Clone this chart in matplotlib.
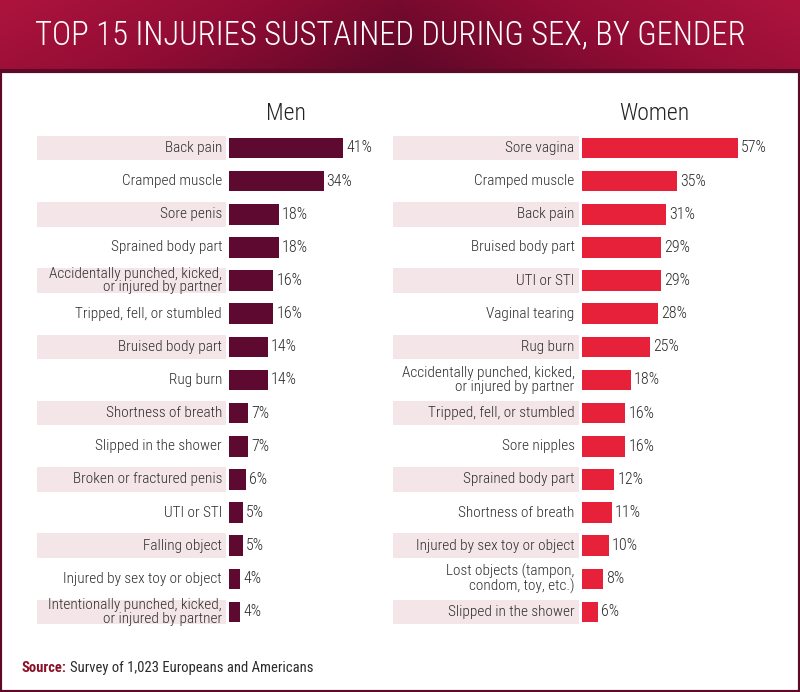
import numpy as np
import matplotlib
matplotlib.use("Agg")
import matplotlib.pyplot as plt
from matplotlib.colors import LinearSegmentedColormap
from matplotlib.patches import Rectangle

plt.rcParams['font.family'] = ['Roboto Condensed', 'DejaVu Sans']

# data
men_labels = ["Back pain", "Cramped muscle", "Sore penis", "Sprained body part",
              "Accidentally punched, kicked,\nor injured by partner",
              "Tripped, fell, or stumbled", "Bruised body part", "Rug burn",
              "Shortness of breath", "Slipped in the shower",
              "Broken or fractured penis", "UTI or STI", "Falling object",
              "Injured by sex toy or object",
              "Intentionally punched, kicked,\nor injured by partner"]
men_values = [41, 34, 18, 18, 16, 16, 14, 14, 7, 7, 6, 5, 5, 4, 4]

women_labels = ["Sore vagina", "Cramped muscle", "Back pain", "Bruised body part",
                "UTI or STI", "Vaginal tearing", "Rug burn",
                "Accidentally punched, kicked,\nor injured by partner",
                "Tripped, fell, or stumbled", "Sore nipples", "Sprained body part",
                "Shortness of breath", "Injured by sex toy or object",
                "Lost objects (tampon,\ncondom, toy, etc.)", "Slipped in the shower"]
women_values = [57, 35, 31, 29, 29, 28, 25, 18, 16, 16, 12, 11, 10, 8, 6]

W, H = 800, 692
fig = plt.figure(figsize=(W / 100, H / 100), dpi=100)
fig.patch.set_facecolor("white")


def px_axes(x0, y0, x1, y1):
    # pixel box (top-left origin) -> axes
    return fig.add_axes([x0 / W, 1 - y1 / H, (x1 - x0) / W, (y1 - y0) / H])


# header band with a dark red gradient
hdr = px_axes(0, 0, W, 71)
gx = np.linspace(-1, 1, 400)
gy = np.linspace(0, 1, 60)
GX, GY = np.meshgrid(gx, gy)
shade = 0.6 * np.abs(GX) + 0.2 * (1 - GY)
cmap = LinearSegmentedColormap.from_list("hdr", ["#5e0828", "#900c34", "#ad143d"])
hdr.imshow(shade, cmap=cmap, aspect="auto", extent=[0, 1, 0, 1], vmin=0, vmax=0.8)
hdr.set_axis_off()
hdr.text(390 / W, 0.5, "TOP 15 INJURIES SUSTAINED DURING SEX, BY GENDER",
         color="white", fontsize=23.5, fontweight="light",
         ha="center", va="center", transform=hdr.transAxes)

# frame of the white panel
frame = px_axes(0, 71, W, H)
frame.set_xlim(0, 1)
frame.set_ylim(0, 1)
frame.set_axis_off()
frame.add_patch(Rectangle((0, 0), 1, 1, fill=False, edgecolor="#5c0a28",
                          linewidth=3, transform=frame.transAxes, clip_on=False))

row_top, row_bot = 148, 612
step = (row_bot - row_top) / 14
ax_top, ax_bot = 128, 632

stripe_col = "#f4e6e8"
text_col = "#2b2b2b"


def panel(x0, x1, zero, scale, labels, values, color, title, title_x):
    ax = px_axes(x0, ax_top, x1, ax_bot)
    ax.set_xlim((x0 - zero) / scale, (x1 - zero) / scale)
    ax.set_ylim(len(values) - 1 + (ax_bot - row_bot) / step, -(row_top - ax_top) / step)
    ax.set_axis_off()
    y = np.arange(len(values))
    stripes = y[::2]
    xmin = ax.get_xlim()[0]
    ax.barh(stripes, [-3 / scale - xmin] * len(stripes), left=xmin,
            height=24.6 / step, color=stripe_col, linewidth=0)
    ax.barh(y, values, height=20.6 / step, color=color, linewidth=0)
    for yi, lab, v in zip(y, labels, values):
        ax.text(-7 / scale, yi, lab, ha="right", va="center", fontsize=11,
                fontweight="light", color=text_col, linespacing=0.95)
        ax.text(v + 3 / scale, yi, f"{v}%", ha="left", va="center", fontsize=11.5,
                fontweight="light", color=text_col)
    fig.text(title_x / W, 1 - 113 / H, title, ha="center", va="center",
             fontsize=17, fontweight="light", color="#222222")
    return ax


panel(37, 390, 229, 2.78, men_labels, men_values, "#5e0a30", "Men", 286)
panel(393, 790, 581.5, 2.74, women_labels, women_values, "#e8213b", "Women", 654)

# source note
src = fig.text(21 / W, 1 - 668 / H, "Source:", ha="left", va="center",
               fontsize=10.5, fontweight="bold", color="#8a1028")
fig.canvas.draw()
bb = src.get_window_extent()
fig.text((bb.x1 + 4) / W, 1 - 668 / H, "Survey of 1,023 Europeans and Americans",
         ha="left", va="center", fontsize=10.5, color="#2b2b2b")

fig.savefig("out.png", dpi=100, facecolor="white")
